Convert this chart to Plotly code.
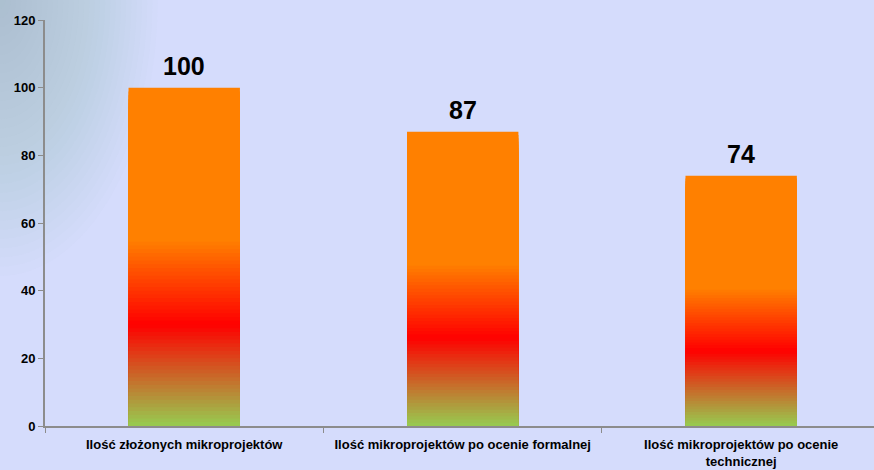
import plotly.graph_objects as go

categories = [
    "Ilość złożonych mikroprojektów",
    "Ilość mikroprojektów po ocenie formalnej",
    "Ilość mikroprojektów po ocenie<br>technicznej",
]
values = [100, 87, 74]
y_ticks = [0, 20, 40, 60, 80, 100, 120]

# gradient stops: (fraction of bar height from bottom, rgb)
stops = [
    (0.00, (150, 204, 80)),
    (0.30, (255, 0, 0)),
    (0.55, (255, 128, 0)),
    (1.00, (255, 128, 0)),
]


def color_at(f):
    for (f0, c0), (f1, c1) in zip(stops[:-1], stops[1:]):
        if f0 <= f <= f1:
            t = (f - f0) / (f1 - f0) if f1 > f0 else 0
            c = [round(a + (b - a) * t) for a, b in zip(c0, c1)]
            return "rgb(%d,%d,%d)" % tuple(c)
    return "rgb(%d,%d,%d)" % stops[-1][1]


N = 90
fig = go.Figure()
for k in range(N):
    frac = (N - k) / N
    fig.add_trace(go.Bar(
        x=categories,
        y=[v * frac for v in values],
        width=0.4,
        marker=dict(color=color_at(frac - 0.5 / N), line=dict(width=0)),
        hoverinfo="skip",
        showlegend=False,
    ))

for c, v in zip(categories, values):
    fig.add_annotation(
        x=c, y=v, text="<b>%d</b>" % v, showarrow=False,
        yanchor="bottom", yshift=6,
        font=dict(family="Liberation Sans", size=25, color="black"),
    )

# soft grey-blue shading in the top-left corner
M = 30
for i in range(M):
    r = 1 - i / M
    fig.add_shape(
        type="circle", xref="paper", yref="paper", layer="below",
        x0=-0.054 - 0.19 * r, x1=-0.054 + 0.19 * r,
        y0=1.05 - 0.68 * r, y1=1.05 + 0.68 * r,
        fillcolor="rgba(150,186,192,0.033)", line=dict(width=0),
    )

fig.update_layout(
    width=874, height=470,
    margin=dict(l=45, r=0, t=20, b=44),
    paper_bgcolor="#d5dcfc",
    plot_bgcolor="rgba(0,0,0,0)",
    barmode="overlay",
    xaxis=dict(
        type="category", range=[-0.5, 2.477],
        showline=True, linecolor="#8c8c8c", linewidth=2,
        ticks="outside", tickson="boundaries", ticklen=5, tickcolor="#8c8c8c",
        ticklabelstandoff=5,
        tickfont=dict(family="Liberation Sans", size=13, color="black", weight="bold"),
        showgrid=False, zeroline=False,
    ),
    yaxis=dict(
        range=[0, 120], tickvals=y_ticks,
        showline=True, linecolor="#8c8c8c", linewidth=2,
        ticks="outside", ticklen=5, tickcolor="#8c8c8c",
        tickfont=dict(family="Liberation Sans", size=13, color="black", weight="bold"),
        showgrid=False, zeroline=False,
    ),
)

fig.write_html(
    "out.html",
    config={"displayModeBar": False},
    post_script="document.body.style.margin='0';document.body.style.overflow='hidden';",
)
